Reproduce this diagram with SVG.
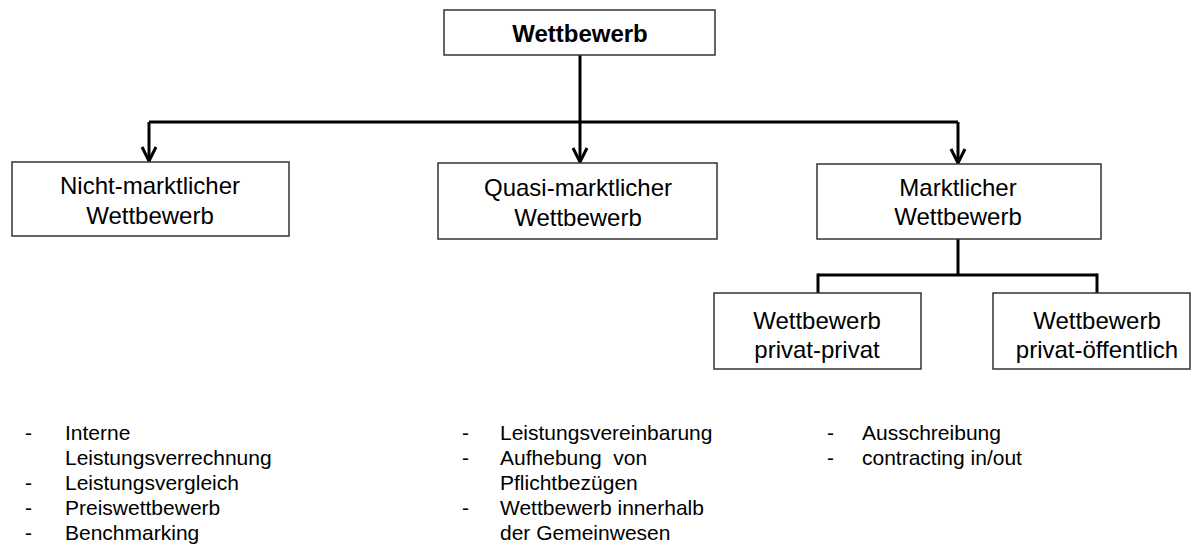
<svg xmlns="http://www.w3.org/2000/svg" width="1193" height="550" viewBox="0 0 1193 550">
  <style>
    .box { fill: #ffffff; stroke: #333333; stroke-width: 1.5; }
    .lbl { font-family: "Liberation Sans", Arial, sans-serif; font-size: 24px; fill: #000000; text-anchor: middle; }
    .title { font-weight: bold; }
    .item { font-family: "Liberation Sans", Arial, sans-serif; font-size: 21px; fill: #000000; white-space: pre; }
    .conn { fill: none; stroke: #000000; stroke-width: 3; }
  </style>
  <defs>
    <!-- open V arrowhead, drawn pointing along +x -->
    <marker id="arrow" markerUnits="userSpaceOnUse" markerWidth="20" markerHeight="20" refX="17" refY="10" orient="auto" viewBox="0 0 20 20">
      <polyline points="3,3 17,10 3,17" fill="none" stroke="#000000" stroke-width="3"/>
    </marker>
  </defs>

  <!-- connectors -->
  <g id="connectors">
    <path class="conn" d="M580,55 V162" marker-end="url(#arrow)"/>
    <path class="conn" d="M149,122 H958"/>
    <path class="conn" d="M149,122 V161" marker-end="url(#arrow)"/>
    <path class="conn" d="M958,122 V163" marker-end="url(#arrow)"/>
    <path class="conn" d="M958,239 V275"/>
    <path class="conn" d="M818,275 H1097"/>
    <path class="conn" d="M818,273.5 V293"/>
    <path class="conn" d="M1097,273.5 V293"/>
  </g>

  <g id="wettbewerb">
    <rect class="box" x="444" y="10" width="271" height="45"/>
    <text class="lbl title" x="580" y="42">Wettbewerb</text>
  </g>

  <g id="nicht-marktlich">
    <rect class="box" x="12" y="162" width="277" height="74"/>
    <text class="lbl" x="150" y="194">Nicht-marktlicher</text>
    <text class="lbl" x="150" y="224">Wettbewerb</text>
  </g>

  <g id="quasi-marktlich">
    <rect class="box" x="438" y="163" width="279" height="76"/>
    <text class="lbl" x="578" y="196">Quasi-marktlicher</text>
    <text class="lbl" x="578" y="226">Wettbewerb</text>
  </g>

  <g id="marktlich">
    <rect class="box" x="817" y="164" width="284" height="75"/>
    <text class="lbl" x="958" y="196">Marktlicher</text>
    <text class="lbl" x="958" y="225">Wettbewerb</text>
  </g>

  <g id="privat-privat">
    <rect class="box" x="714" y="293" width="207" height="76"/>
    <text class="lbl" x="817" y="329">Wettbewerb</text>
    <text class="lbl" x="817" y="358">privat-privat</text>
  </g>

  <g id="privat-oeffentlich">
    <rect class="box" x="993" y="293" width="197" height="76"/>
    <text class="lbl" x="1097" y="329">Wettbewerb</text>
    <text class="lbl" x="1097" y="358">privat-öffentlich</text>
  </g>

  <!-- instrument lists -->
  <g id="list-nicht-marktlich">
    <text class="item" x="25" y="440">-</text>
    <text class="item" x="65" y="440">Interne</text>
    <text class="item" x="65" y="465">Leistungsverrechnung</text>
    <text class="item" x="25" y="490">-</text>
    <text class="item" x="65" y="490">Leistungsvergleich</text>
    <text class="item" x="25" y="515">-</text>
    <text class="item" x="65" y="515">Preiswettbewerb</text>
    <text class="item" x="25" y="540">-</text>
    <text class="item" x="65" y="540">Benchmarking</text>
  </g>

  <g id="list-quasi-marktlich">
    <text class="item" x="462" y="440">-</text>
    <text class="item" x="500" y="440">Leistungsvereinbarung</text>
    <text class="item" x="462" y="465">-</text>
    <text class="item" x="500" y="465">Aufhebung  von</text>
    <text class="item" x="500" y="490">Pflichtbezügen</text>
    <text class="item" x="462" y="515">-</text>
    <text class="item" x="500" y="515">Wettbewerb innerhalb</text>
    <text class="item" x="500" y="540">der Gemeinwesen</text>
  </g>

  <g id="list-marktlich">
    <text class="item" x="827" y="440">-</text>
    <text class="item" x="862" y="440">Ausschreibung</text>
    <text class="item" x="827" y="465">-</text>
    <text class="item" x="862" y="465">contracting in/out</text>
  </g>
</svg>
